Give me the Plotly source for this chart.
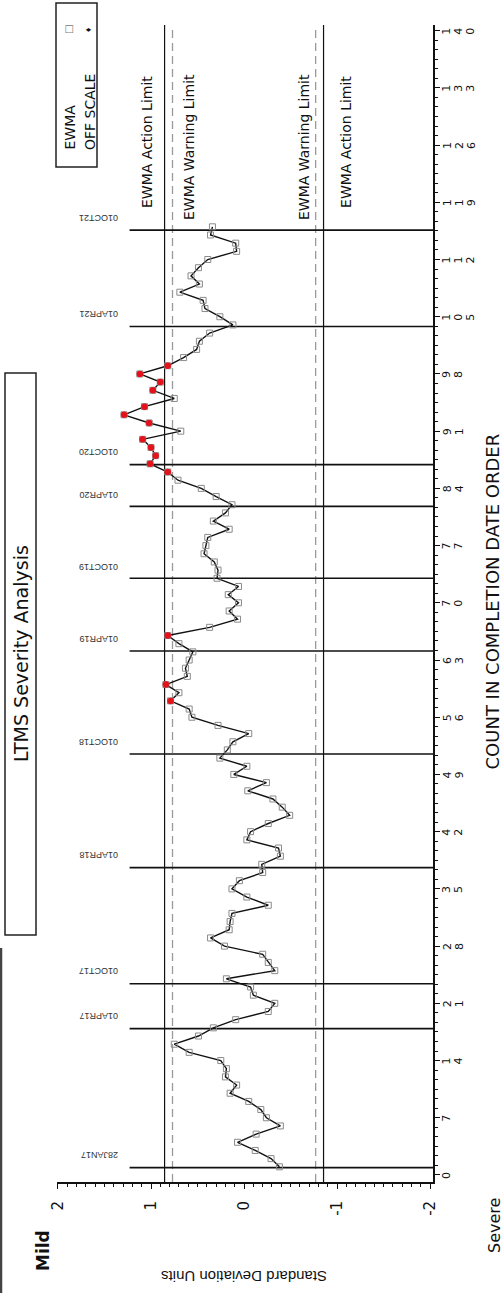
import plotly.graph_objects as go

# EWMA severity values, one per test in completion-date order
counts = list(range(1, 117))
ewma = [
    -0.38, -0.29, -0.12, 0.07, -0.13, -0.39, -0.24, -0.18, -0.05, 0.15,
    0.08, 0.20, 0.19, 0.25, 0.59, 0.75, 0.49, 0.33, 0.09, -0.26,
    -0.33, -0.10, -0.07, 0.19, -0.33, -0.26, -0.20, 0.21, 0.36, 0.16,
    0.15, 0.13, -0.26, -0.03, 0.13, 0.05, -0.20, -0.19, -0.39, -0.37,
    -0.03, -0.07, -0.26, -0.49, -0.41, -0.31, -0.04, -0.24, 0.11, -0.03,
    0.26, 0.18, 0.12, -0.05, 0.28, 0.56, 0.59, 0.79, 0.70, 0.84,
    0.61, 0.63, 0.59, 0.55, 0.70, 0.82, 0.37, 0.07, 0.16, 0.06,
    0.17, 0.06, 0.29, 0.28, 0.32, 0.43, 0.41, 0.39, 0.16, 0.33,
    0.20, 0.13, 0.30, 0.46, 0.71, 0.82, 1.01, 0.95, 1.00, 1.09,
    0.68, 1.02, 1.29, 1.07, 0.75, 0.98, 0.90, 1.12, 0.82, 0.65,
    0.51, 0.48, 0.37, 0.12, 0.26, 0.42, 0.44, 0.69, 0.48, 0.57,
    0.49, 0.39, 0.08, 0.09, 0.36, 0.34,
]

ACTION_LIMIT = 0.854
WARNING_LIMIT = 0.769

# Calendar reference lines (position along the count axis)
date_labels = ["28JAN17", "01APR17", "01OCT17", "01APR18", "01OCT18", "01APR19",
               "01OCT19", "01APR20", "01OCT20", "01APR21", "01OCT21"]
date_counts = [0.9, 17.9, 23.4, 37.6, 51.5, 64.1, 73.0, 81.8, 86.9, 103.8, 115.6]

value_ticks = [2, 1, 0, -1, -2]
value_tick_text = ["2", "1", "0", "-1", "-2"]
count_ticks = list(range(0, 141, 7))

# Page geometry (pixels)
W, H = 503, 1293
PL, PR, PT, PB = 57, 433, 25, 1182


def px(x):
    return (x - PL) / (PR - PL)


def py(y):
    return (PB - y) / (PB - PT)


flag_x = [v for v in ewma if abs(v) > WARNING_LIMIT]
flag_y = [c for c, v in zip(counts, ewma) if abs(v) > WARNING_LIMIT]

fig = go.Figure()

fig.add_trace(go.Scatter(
    x=ewma, y=counts, mode="lines+markers",
    line=dict(color="#111111", width=1.4),
    marker=dict(symbol="square-open", size=6, color="#8a8a8a", line=dict(width=1)),
    showlegend=False, cliponaxis=False,
))
fig.add_trace(go.Scatter(
    x=flag_x, y=flag_y, mode="markers",
    marker=dict(symbol="circle", size=6.5, color="#e3121b"),
    showlegend=False, cliponaxis=False,
))

shapes = []
# Action (solid) and warning (dashed) limits
for v in (ACTION_LIMIT, -ACTION_LIMIT):
    shapes.append(dict(type="line", xref="x", yref="paper", x0=v, x1=v, y0=0, y1=1,
                       line=dict(color="#111111", width=1.2), layer="below"))
for v in (WARNING_LIMIT, -WARNING_LIMIT):
    shapes.append(dict(type="line", xref="x", yref="paper", x0=v, x1=v, y0=0, y1=1,
                       line=dict(color="#9a9a9a", width=1.3, dash="8px,5px"), layer="below"))
# Date reference lines
for c in date_counts:
    shapes.append(dict(type="line", xref="x", yref="y", x0=1.23, x1=-2.03, y0=c, y1=c,
                       line=dict(color="#111111", width=1.6), layer="below"))
# Title box and legend box
shapes.append(dict(type="rect", xref="paper", yref="paper",
                   x0=px(5), x1=px(36), y0=py(935), y1=py(373),
                   line=dict(color="#222222", width=1.5)))
shapes.append(dict(type="rect", xref="paper", yref="paper",
                   x0=px(56), x1=px(97), y0=py(167), y1=py(3),
                   line=dict(color="#222222", width=1.5)))
# Page frame edge
shapes.append(dict(type="line", xref="paper", yref="paper",
                   x0=px(1), x1=px(1), y0=py(1293), y1=py(948),
                   line=dict(color="#444444", width=2.5)))

ann = []
FONT = "DejaVu Sans"


def text(x, y, s, size, angle, xa="center", ya="middle", family=FONT, color="#111111",
         xref="paper", yref="paper", xshift=0, yshift=0):
    ann.append(dict(x=x, y=y, xref=xref, yref=yref, text=s, showarrow=False,
                    textangle=angle, xanchor=xa, yanchor=ya, xshift=xshift, yshift=yshift,
                    font=dict(family=family, size=size, color=color)))


# Count-axis labels: digits stacked side by side, each turned with the page
for c in count_ticks:
    for i, d in enumerate(str(c)):
        text(px(447 + 12 * i), c, d, 11, -90, yref="y")

text(px(21), py(654), "LTMS Severity Analysis", 19, -90)
text(px(69), py(152), "EWMA", 14, -90, ya="bottom")
text(px(90), py(152), "OFF SCALE", 14, -90, ya="bottom")
text(px(68), py(30), "□", 10, -90, color="#777777")
text(px(89), py(30), "♦", 7, -90)

text(ACTION_LIMIT, py(210), "EWMA Action Limit", 14, -90, ya="bottom", xref="x", xshift=-17.6)
text(WARNING_LIMIT, py(222), "EWMA Warning Limit", 14, -90, ya="bottom", xref="x", xshift=16.5)
text(-WARNING_LIMIT, py(222), "EWMA Warning Limit", 14, -90, ya="bottom", xref="x", xshift=-11.6)
text(-ACTION_LIMIT, py(210), "EWMA Action Limit", 14, -90, ya="bottom", xref="x", xshift=22.4)

for lab, c in zip(date_labels, date_counts):
    text(1.333, c, lab, 9, 180, xa="right", xref="x", yref="y", yshift=12,
         family="Liberation Sans", color="#333333")

text(px(43), py(1251), "<b>Mild</b>", 17, -90)
text(px(494), py(1225), "Severe", 16, -90)
text(px(244), py(1277), "Standard Deviation Units", 15, 180, family="Liberation Sans")
text(px(479), py(602), "COUNT IN COMPLETION DATE ORDER", 18, -90, xa="left")

fig.update_layout(
    width=W, height=H,
    margin=dict(l=PL, r=W - PR, t=PT, b=H - PB, pad=0),
    paper_bgcolor="white", plot_bgcolor="white",
    font=dict(family=FONT, color="#111111"),
    shapes=shapes, annotations=ann, showlegend=False,
    xaxis=dict(
        range=[2.01, -2.03], tickmode="array", tickvals=value_ticks, ticktext=value_tick_text,
        tickangle=-90, tickfont=dict(size=15, family=FONT),
        showline=True, linecolor="#111111", linewidth=1.8, mirror=False,
        ticks="outside", ticklen=5, tickwidth=1.2, tickcolor="#111111",
        ticklabelstandoff=6,
        minor=dict(tickmode="linear", tick0=0, dtick=0.1, ticks="outside",
                   ticklen=3, tickwidth=1, tickcolor="#111111", showgrid=False),
        showgrid=False, zeroline=False, fixedrange=True,
    ),
    yaxis=dict(
        range=[-0.86, 140.69], side="right", tickmode="array", tickvals=count_ticks,
        showticklabels=False,
        showline=True, linecolor="#111111", linewidth=1.8,
        ticks="outside", ticklen=5, tickwidth=1.2, tickcolor="#111111",
        minor=dict(tickmode="linear", tick0=0, dtick=7 / 6, ticks="outside",
                   ticklen=3, tickwidth=1, tickcolor="#111111", showgrid=False),
        showgrid=False, zeroline=False, fixedrange=True,
    ),
)

fig.write_html("out.html", config={"displayModeBar": False})
